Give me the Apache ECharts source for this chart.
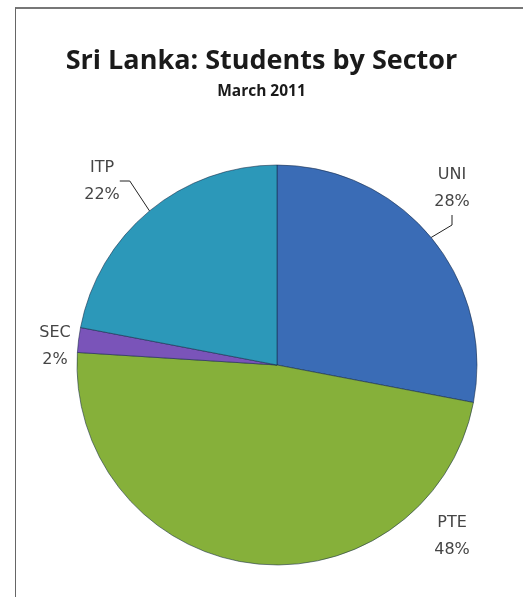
<!DOCTYPE html>
<html><head><meta charset="utf-8">
<script src="https://cdn.jsdelivr.net/npm/echarts@6/dist/echarts.min.js"></script>
<style>
html,body{margin:0;padding:0;background:#fff;}
#frame{position:absolute;left:15px;top:7px;width:520px;height:600px;border-left:1px solid #666;border-top:2px solid #777;}
#c{position:absolute;left:0;top:0;width:523px;height:597px;}
</style></head>
<body><div id="frame"></div><div id="c"></div>
<script>
const categories = ['UNI', 'PTE', 'SEC', 'ITP'];
const values = [28, 48, 2, 22];
const colors = ['#3A6CB6', '#86B03A', '#7A54B9', '#2C98B9'];
const labelPos = [[452, 188], [452, 536], [55, 346], [102, 181]];

const chart = echarts.init(document.getElementById('c'), null, {renderer: 'canvas'});
chart.setOption({
  backgroundColor: 'transparent',
  animation: false,
  title: {
    text: 'Sri Lanka: Students by Sector',
    subtext: 'March 2011',
    left: 'center',
    top: 43,
    itemGap: 9,
    textStyle: {fontFamily: 'Open Sans', fontWeight: 'bold', fontSize: 27, color: '#1a1a1a'},
    subtextStyle: {fontFamily: 'Open Sans', fontWeight: 'bold', fontSize: 15.5, color: '#1a1a1a'}
  },
  series: [{
    type: 'pie',
    center: [277, 365],
    radius: 200,
    startAngle: 90,
    clockwise: true,
    avoidLabelOverlap: false,
    data: categories.map((c, i) => ({
      name: c, value: values[i],
      itemStyle: {color: colors[i]},
      labelLine: {show: c === 'UNI' || c === 'ITP'}
    })),
    itemStyle: {borderColor: 'rgba(20,40,70,0.55)', borderWidth: 1},
    label: {
      show: true,
      formatter: p => p.name + '\n' + Math.round(p.percent) + '%',
      fontFamily: 'DejaVu Sans',
      fontSize: 16,
      lineHeight: 27,
      color: '#454545',
      align: 'center'
    },
    labelLine: {lineStyle: {color: '#222', width: 1}, length: 20, length2: 10},
    labelLayout: p => ({x: labelPos[p.dataIndex][0], y: labelPos[p.dataIndex][1], align: 'center', verticalAlign: 'middle'})
  }]
});
</script>
</body></html>
